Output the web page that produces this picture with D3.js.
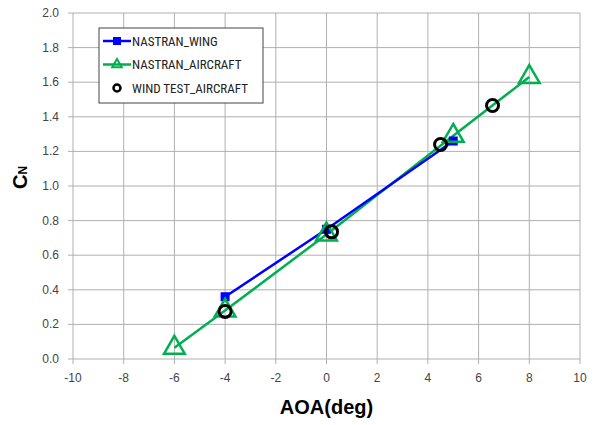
<!DOCTYPE html>
<html>
<head>
<meta charset="utf-8">
<script src="https://cdn.jsdelivr.net/npm/d3@7"></script>
<style>
  body { margin: 0; background: #fff; }
  svg text { font-family: "Liberation Sans", Arial, sans-serif; }
  svg text.leg { font-family: "Liberation Sans Narrow", "Roboto Condensed", Arial, sans-serif; }
</style>
</head>
<body>
<div id="chart"></div>
<script>
// data
var wingAoa = [-4, 0, 5];
var wingCn = [0.36, 0.75, 1.26];
var aircraftAoa = [-6, -4, 0, 5, 8];
var aircraftCn = [0.065, 0.28, 0.72, 1.29, 1.63];
var windAoa = [-4, 0.2, 4.5, 6.55];
var windCn = [0.275, 0.735, 1.24, 1.465];
var xTicks = [-10, -8, -6, -4, -2, 0, 2, 4, 6, 8, 10];
var yTicks = [0, 0.2, 0.4, 0.6, 0.8, 1.0, 1.2, 1.4, 1.6, 1.8, 2.0];
var seriesNames = ["NASTRAN_WING", "NASTRAN_AIRCRAFT", "WIND TEST_AIRCRAFT"];

var width = 596, height = 425;
var margin = {left: 73, right: 16, top: 13, bottom: 66};

var svg = d3.select("#chart").append("svg")
  .attr("width", width)
  .attr("height", height);

var x = d3.scaleLinear().domain([-10, 10]).range([margin.left, width - margin.right]);
var y = d3.scaleLinear().domain([0, 2]).range([height - margin.bottom, margin.top]);

var zip = function(a, b){ return a.map(function(v, i){ return [v, b[i]]; }); };

// grid
svg.append("g").selectAll("line.v")
  .data(xTicks).enter().append("line")
  .attr("x1", function(d){ return x(d); }).attr("x2", function(d){ return x(d); })
  .attr("y1", y(2)).attr("y2", y(0) + 5)
  .attr("stroke", "#b0b0b0").attr("stroke-width", 1);
svg.append("g").selectAll("line.h")
  .data(yTicks).enter().append("line")
  .attr("x1", x(-10) - 5).attr("x2", x(10))
  .attr("y1", function(d){ return y(d); }).attr("y2", function(d){ return y(d); })
  .attr("stroke", "#b0b0b0").attr("stroke-width", 1);

// tick labels
svg.append("g").selectAll("text")
  .data(xTicks).enter().append("text")
  .attr("x", function(d){ return x(d); })
  .attr("y", y(0) + 23)
  .attr("text-anchor", "middle")
  .attr("font-size", 12).attr("fill", "#444")
  .text(function(d){ return d; });
svg.append("g").selectAll("text")
  .data(yTicks).enter().append("text")
  .attr("x", x(-10) - 14)
  .attr("y", function(d){ return y(d) + 4; })
  .attr("text-anchor", "end")
  .attr("font-size", 12).attr("fill", "#444")
  .text(function(d){ return d3.format(".1f")(d); });

// axis titles
svg.append("text")
  .attr("x", (x(-10) + x(10)) / 2).attr("y", 414)
  .attr("text-anchor", "middle")
  .attr("font-size", 20).attr("font-weight", "bold")
  .text("AOA(deg)");
var yt = svg.append("text")
  .attr("transform", "translate(27," + y(1.05) + ") rotate(-90)")
  .attr("text-anchor", "middle")
  .attr("font-size", 20).attr("font-weight", "bold");
yt.append("tspan").text("C");
yt.append("tspan").attr("font-size", 12).text("N");

var line = d3.line().x(function(d){ return x(d[0]); }).y(function(d){ return y(d[1]); });
var blue = "#0000ff", green = "#00b050";

// aircraft series
svg.append("path").datum(zip(aircraftAoa, aircraftCn))
  .attr("d", line).attr("fill", "none").attr("stroke", green).attr("stroke-width", 2.5);
// wing series
svg.append("path").datum(zip(wingAoa, wingCn))
  .attr("d", line).attr("fill", "none").attr("stroke", blue).attr("stroke-width", 2.5);

var tri = d3.symbol().type(d3.symbolTriangle).size(185);
svg.append("g").selectAll("path")
  .data(zip(wingAoa, wingCn)).enter().append("rect")
  .attr("x", function(d){ return x(d[0]) - 4.5; })
  .attr("y", function(d){ return y(d[1]) - 4.5; })
  .attr("width", 9).attr("height", 9).attr("fill", blue);
svg.append("g").selectAll("path")
  .data(zip(aircraftAoa, aircraftCn)).enter().append("path")
  .attr("d", tri)
  .attr("transform", function(d){ return "translate(" + x(d[0]) + "," + y(d[1]) + ")"; })
  .attr("fill", "none").attr("stroke", green).attr("stroke-width", 2.5);
svg.append("g").selectAll("circle")
  .data(zip(windAoa, windCn)).enter().append("circle")
  .attr("cx", function(d){ return x(d[0]); })
  .attr("cy", function(d){ return y(d[1]); })
  .attr("r", 6).attr("fill", "none").attr("stroke", "#000").attr("stroke-width", 3);

// legend
var lg = svg.append("g").attr("transform", "translate(99,28)");
lg.append("rect").attr("width", 164).attr("height", 75)
  .attr("fill", "#fff").attr("stroke", "#444").attr("stroke-width", 1);
var rows = lg.selectAll("g").data(seriesNames).enter().append("g")
  .attr("transform", function(d, i){ return "translate(0," + (13 + i * 23.5) + ")"; });
rows.append("text").attr("class", "leg").attr("x", 33).attr("y", 4.5)
  .attr("font-size", 13).attr("fill", "#222")
  .text(function(d){ return d; });
rows.filter(function(d, i){ return i < 2; }).append("line")
  .attr("x1", 4).attr("x2", 32)
  .attr("stroke", function(d, i){ return i == 0 ? blue : green; }).attr("stroke-width", 2.5);
rows.filter(function(d, i){ return i == 0; }).append("rect")
  .attr("x", 14).attr("y", -4).attr("width", 8).attr("height", 8).attr("fill", blue);
rows.filter(function(d, i){ return i == 1; }).append("path")
  .attr("d", d3.symbol().type(d3.symbolTriangle).size(40))
  .attr("transform", "translate(18,0)")
  .attr("fill", "none").attr("stroke", green).attr("stroke-width", 2);
rows.filter(function(d, i){ return i == 2; }).append("circle")
  .attr("cx", 18).attr("r", 3.5).attr("fill", "none").attr("stroke", "#000").attr("stroke-width", 2.5);
</script>
</body>
</html>
